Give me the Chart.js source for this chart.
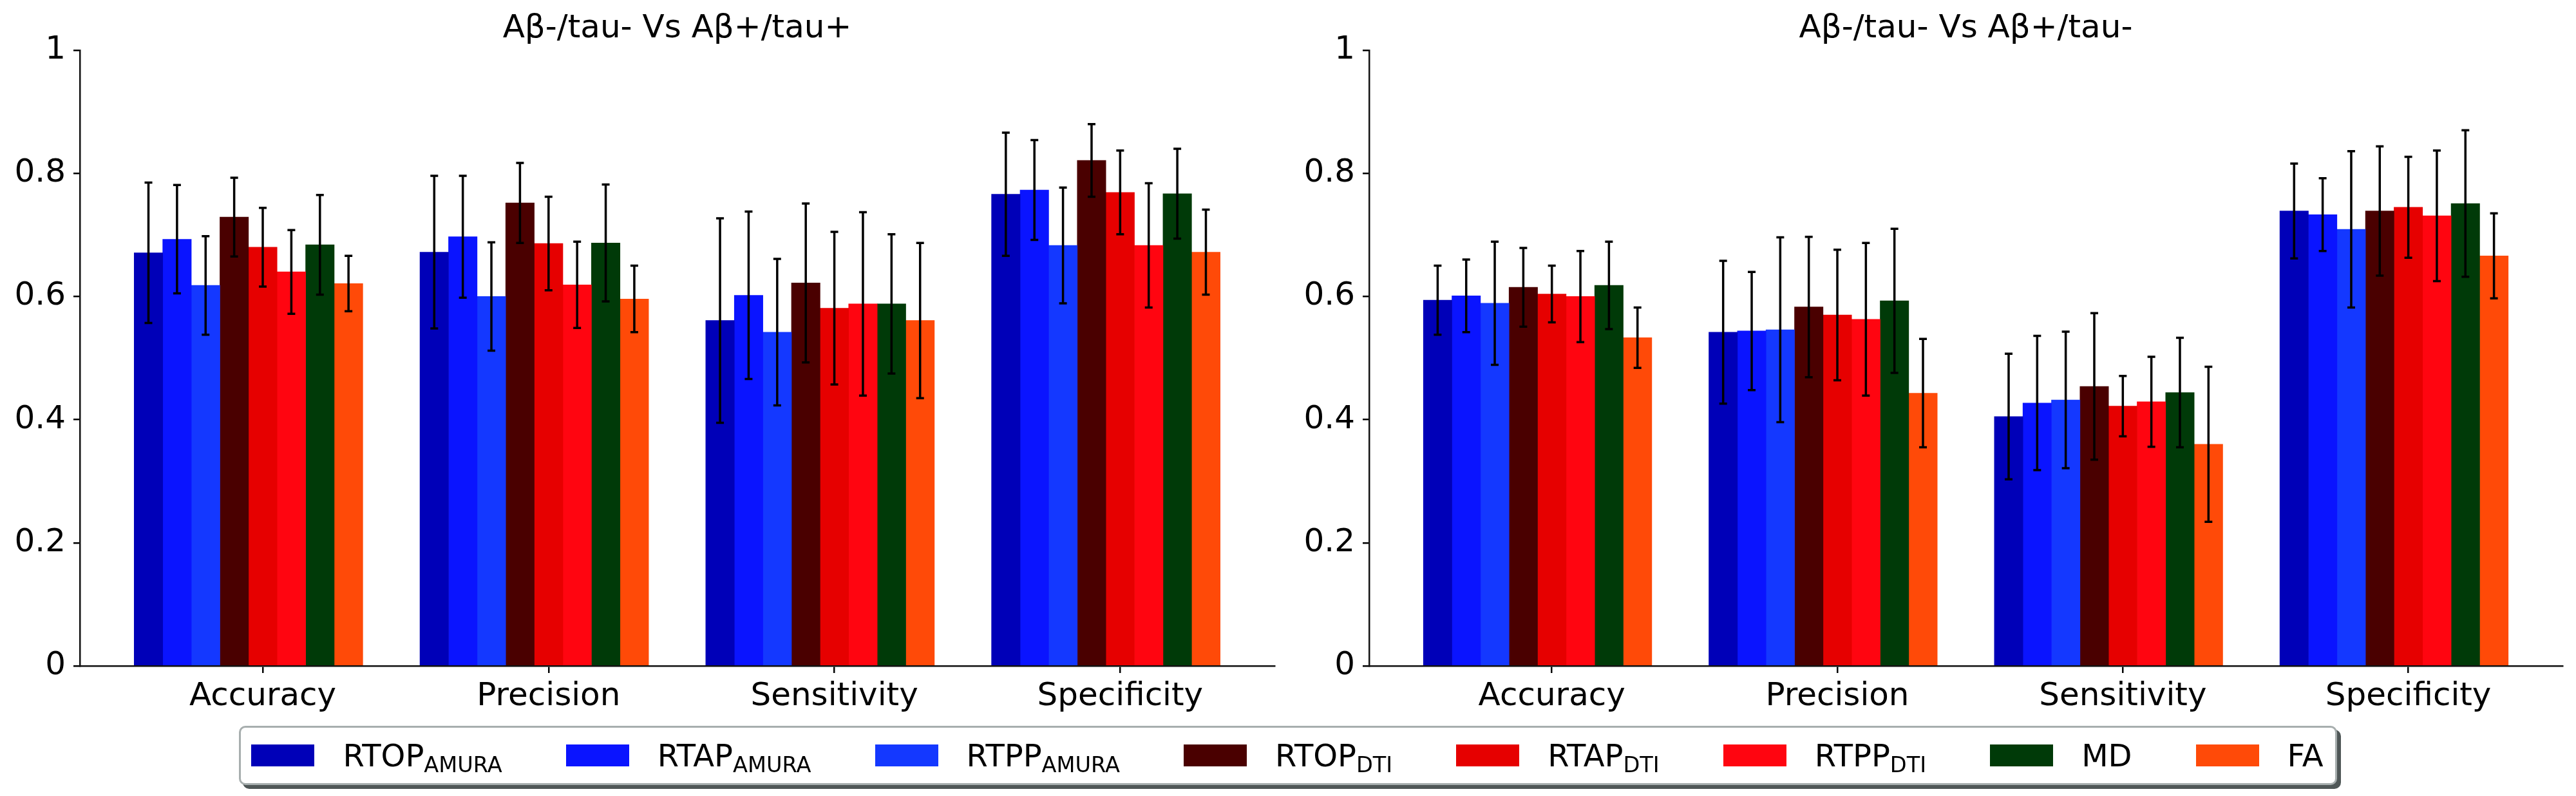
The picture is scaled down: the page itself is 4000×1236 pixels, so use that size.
<!DOCTYPE html>
<html>
<head>
<meta charset="utf-8">
<script src="https://cdn.jsdelivr.net/npm/chart.js@4.4.1/dist/chart.umd.min.js"></script>
<style>
  body { margin: 0; width: 4000px; height: 1236px; background: #fff; position: relative; overflow: hidden; }
  canvas { position: absolute; top: 0; display: block; }
  #legend { position: absolute; top: 1127px; left: 0; width: 4000px; display: flex; justify-content: center; }
  #legend .box {
    display: flex; align-items: center; height: 86px; padding: 0 18px 0 16px;
    border: 3px solid #a7aeae; border-radius: 10px; background: #fff;
    box-shadow: 6px 6px 0 #4f5757;
    font-family: "DejaVu Sans", sans-serif; font-size: 48px; color: #000; line-height: 1;
  }
  #legend .item { display: flex; align-items: center; margin-right: 99px; }
  #legend .item:last-child { margin-right: 0; }
  #legend .swatch { width: 98px; height: 34px; margin-right: 44px; }
  #legend sub { font-size: 0.7em; vertical-align: -0.28em; line-height: 0; }
</style>
</head>
<body>
<canvas id="chartLeft" width="2000" height="1236" style="left:0"></canvas>
<canvas id="chartRight" width="2000" height="1236" style="left:2000px"></canvas>
<div id="legend"><div class="box"></div></div>
<script>
const categories = ["Accuracy", "Precision", "Sensitivity", "Specificity"];
const seriesNames = ["RTOP", "RTAP", "RTPP", "RTOP", "RTAP", "RTPP", "MD", "FA"];
const seriesSubs = ["AMURA", "AMURA", "AMURA", "DTI", "DTI", "DTI", "", ""];
const seriesColors = ["#0000b8", "#0a14ff", "#1438ff", "#4a0000", "#e60000", "#ff0510", "#003a08", "#ff4a08"];
const yTickValues = [0, 0.2, 0.4, 0.6, 0.8, 1];

// Aβ-/tau- Vs Aβ+/tau+ : rows = series, cols = categories
const meansPlusPlus = [
  [0.671, 0.672, 0.561, 0.766],
  [0.693, 0.697, 0.602, 0.773],
  [0.618, 0.600, 0.542, 0.683],
  [0.729, 0.752, 0.622, 0.821],
  [0.680, 0.686, 0.581, 0.769],
  [0.640, 0.619, 0.588, 0.683],
  [0.684, 0.687, 0.588, 0.767],
  [0.621, 0.596, 0.561, 0.672]
];
const stdPlusPlus = [
  [0.114, 0.124, 0.166, 0.100],
  [0.088, 0.099, 0.136, 0.081],
  [0.080, 0.088, 0.119, 0.094],
  [0.064, 0.065, 0.129, 0.059],
  [0.064, 0.076, 0.124, 0.068],
  [0.068, 0.070, 0.149, 0.101],
  [0.081, 0.095, 0.113, 0.073],
  [0.045, 0.054, 0.126, 0.069]
];

// Aβ-/tau- Vs Aβ+/tau-
const meansPlusMinus = [
  [0.594, 0.542, 0.405, 0.739],
  [0.601, 0.544, 0.427, 0.733],
  [0.589, 0.546, 0.432, 0.709],
  [0.615, 0.583, 0.454, 0.739],
  [0.604, 0.570, 0.422, 0.745],
  [0.600, 0.563, 0.429, 0.731],
  [0.618, 0.593, 0.444, 0.751],
  [0.533, 0.443, 0.360, 0.666]
];
const stdPlusMinus = [
  [0.056, 0.116, 0.102, 0.077],
  [0.059, 0.096, 0.109, 0.059],
  [0.100, 0.150, 0.111, 0.127],
  [0.064, 0.114, 0.119, 0.105],
  [0.046, 0.106, 0.049, 0.082],
  [0.074, 0.124, 0.073, 0.106],
  [0.071, 0.117, 0.089, 0.119],
  [0.049, 0.088, 0.126, 0.069]
];

const barWidth = 0.1; // bar width in category units, like matplotlib's width
const lo = -4.5 * barWidth;
const hi = categories.length - 1 + 3.5 * barWidth;
const margin = 0.05 * (hi - lo);

Chart.defaults.font.family = "'DejaVu Sans', sans-serif";
Chart.defaults.color = "#000";

// mean +/- std whiskers
const errorBars = {
  id: "errorBars",
  afterDatasetsDraw(chart) {
    const ctx = chart.ctx;
    const y = chart.scales.y;
    ctx.save();
    ctx.strokeStyle = "#000";
    ctx.lineWidth = 3.5;
    chart.data.datasets.forEach((ds, i) => {
      chart.getDatasetMeta(i).data.forEach((bar, j) => {
        const m = ds.data[j].y, e = ds.errors[j];
        const top = y.getPixelForValue(m + e), bot = y.getPixelForValue(m - e);
        ctx.beginPath();
        ctx.moveTo(bar.x, top); ctx.lineTo(bar.x, bot);
        ctx.moveTo(bar.x - 6, top); ctx.lineTo(bar.x + 6, top);
        ctx.moveTo(bar.x - 6, bot); ctx.lineTo(bar.x + 6, bot);
        ctx.stroke();
      });
    });
    ctx.restore();
  }
};

function makeChart(id, title, means, stds, axisWidth) {
  return new Chart(document.getElementById(id), {
    type: "bar",
    data: {
      datasets: seriesNames.map((name, i) => ({
        label: name + seriesSubs[i],
        data: categories.map((c, j) => ({ x: j + (i - 4) * barWidth, y: means[i][j] })),
        errors: stds[i],
        backgroundColor: seriesColors[i],
        borderWidth: 0,
        grouped: false,
        categoryPercentage: 1,
        barPercentage: 1
      }))
    },
    options: {
      responsive: false,
      animation: false,
      layout: { padding: { left: 0, right: 21, top: 0, bottom: 0 } },
      plugins: {
        legend: { display: false },
        tooltip: { enabled: false },
        title: {
          display: true,
          text: title,
          fullSize: false,
          font: { size: 50, weight: "normal" },
          color: "#000",
          padding: { top: 15, bottom: 3 }
        }
      },
      scales: {
        x: {
          type: "linear",
          min: lo - margin,
          max: hi + margin,
          offset: false,
          z: 1,
          afterBuildTicks: (s) => { s.ticks = categories.map((c, j) => ({ value: j })); },
          afterFit: (s) => { s.height = 202; },
          ticks: { callback: (v) => categories[v], font: { size: 50 }, padding: 7, maxRotation: 0, autoSkip: false },
          grid: { display: true, drawOnChartArea: false, drawTicks: true, tickLength: 11, color: "#000", lineWidth: 2.5, offset: false },
          border: { display: true, color: "#111", width: 2.5 }
        },
        y: {
          min: 0,
          max: 1,
          z: 1,
          afterBuildTicks: (s) => { s.ticks = yTickValues.map((v) => ({ value: v })); },
          afterFit: (s) => { s.width = axisWidth; },
          ticks: { callback: (v) => (v === 0 || v === 1 ? String(v) : v.toFixed(1)), font: { size: 50 }, padding: 12 },
          grid: { display: true, drawOnChartArea: false, drawTicks: true, tickLength: 10, color: "#000", lineWidth: 2.5 },
          border: { display: true, color: "#111", width: 2.5 }
        }
      }
    },
    plugins: [errorBars]
  });
}

makeChart("chartLeft", "Aβ-/tau- Vs Aβ+/tau+", meansPlusPlus, stdPlusPlus, 124);
makeChart("chartRight", "Aβ-/tau- Vs Aβ+/tau-", meansPlusMinus, stdPlusMinus, 126);

// legend with subscripts
const box = document.querySelector("#legend .box");
seriesNames.forEach((name, i) => {
  const item = document.createElement("div");
  item.className = "item";
  const sw = document.createElement("div");
  sw.className = "swatch";
  sw.style.background = seriesColors[i];
  const label = document.createElement("span");
  label.textContent = name;
  if (seriesSubs[i]) {
    const sub = document.createElement("sub");
    sub.textContent = seriesSubs[i];
    label.appendChild(sub);
  }
  item.appendChild(sw);
  item.appendChild(label);
  box.appendChild(item);
});
</script>
</body>
</html>
